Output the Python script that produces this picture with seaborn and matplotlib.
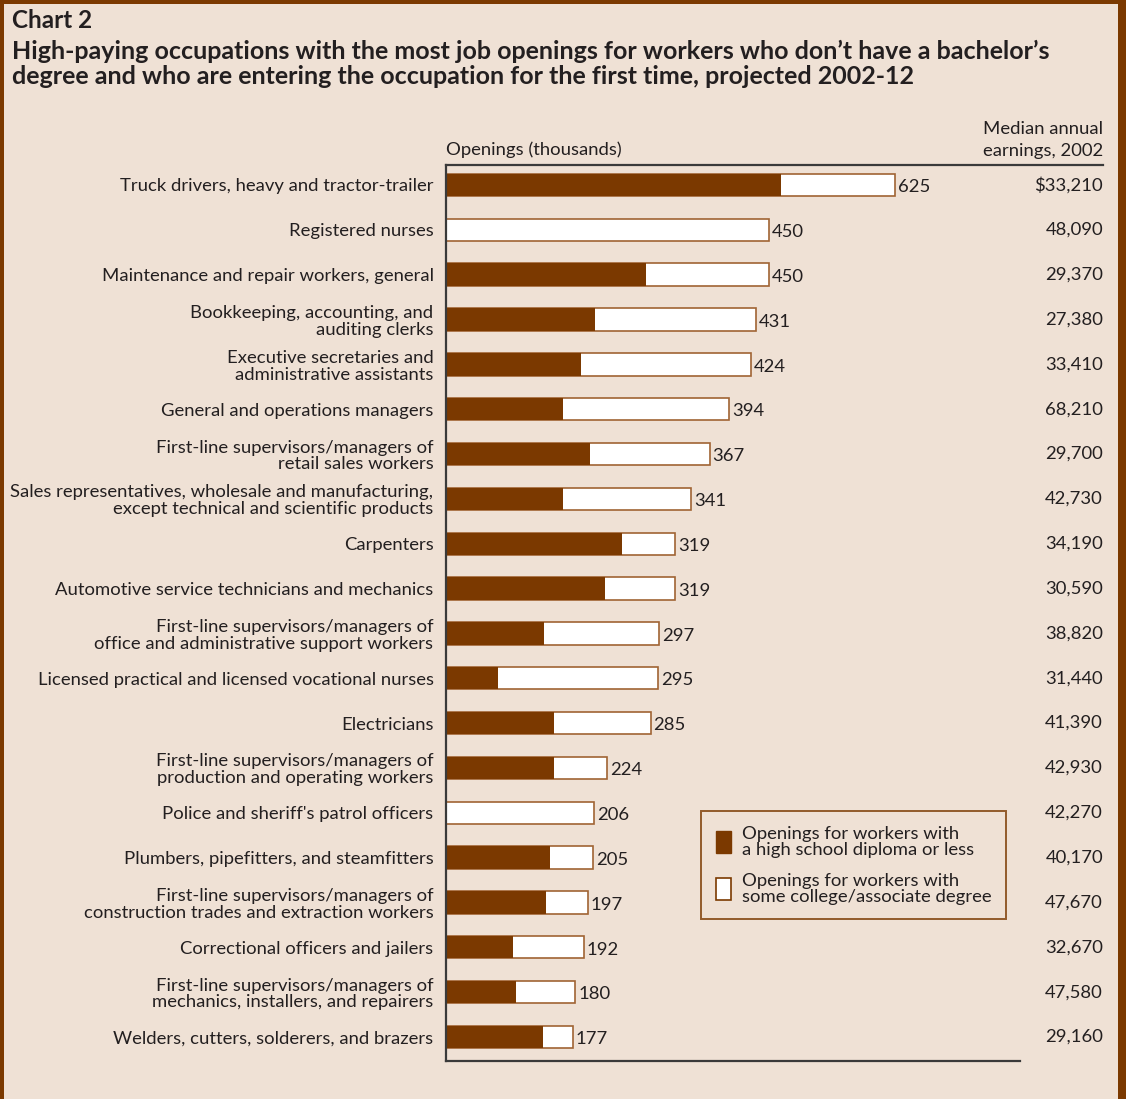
import matplotlib
matplotlib.use("Agg")
import matplotlib.pyplot as plt
from matplotlib.patches import Rectangle, Patch
from matplotlib.lines import Line2D
from matplotlib.transforms import blended_transform_factory
import seaborn as sns
import pandas as pd

occupations = [
    "Truck drivers, heavy and tractor-trailer",
    "Registered nurses",
    "Maintenance and repair workers, general",
    "Bookkeeping, accounting, and\nauditing clerks",
    "Executive secretaries and\nadministrative assistants",
    "General and operations managers",
    "First-line supervisors/managers of\nretail sales workers",
    "Sales representatives, wholesale and manufacturing,\nexcept technical and scientific products",
    "Carpenters",
    "Automotive service technicians and mechanics",
    "First-line supervisors/managers of\noffice and administrative support workers",
    "Licensed practical and licensed vocational nurses",
    "Electricians",
    "First-line supervisors/managers of\nproduction and operating workers",
    "Police and sheriff's patrol officers",
    "Plumbers, pipefitters, and steamfitters",
    "First-line supervisors/managers of\nconstruction trades and extraction workers",
    "Correctional officers and jailers",
    "First-line supervisors/managers of\nmechanics, installers, and repairers",
    "Welders, cutters, solderers, and brazers",
]
total_openings = [625, 450, 450, 431, 424, 394, 367, 341, 319, 319,
                  297, 295, 285, 224, 206, 205, 197, 192, 180, 177]
high_school_openings = [466, 0, 279, 207, 188, 163, 200, 163, 245, 221,
                        136, 72, 151, 151, 0, 145, 139, 93, 98, 135]
earnings = ["$33,210", "48,090", "29,370", "27,380", "33,410", "68,210",
            "29,700", "42,730", "34,190", "30,590", "38,820", "31,440",
            "41,390", "42,930", "42,270", "40,170", "47,670", "32,670",
            "47,580", "29,160"]

BG = "#EFE1D5"
DARK = "#7B3900"
EDGE = "#A06434"
TXT = "#231F20"
FONT = "Lato"
FS = 13.3

plt.rcParams["font.family"] = [FONT, "DejaVu Sans"]

df = pd.DataFrame({"occupation": occupations,
                   "total": total_openings,
                   "hs": high_school_openings})

W, H = 1126, 1099
fig = plt.figure(figsize=(W / 100, H / 100), dpi=100, facecolor=BG)
ax = fig.add_axes([446 / W, 1 - 1061 / H, (1020 - 446) / W, (1061 - 165) / H])
ax.set_facecolor(BG)

sns.barplot(data=df, x="total", y="occupation", orient="h", color="white",
            edgecolor=EDGE, linewidth=1.2, width=0.5, ax=ax, saturation=1)
sns.barplot(data=df, x="hs", y="occupation", orient="h", color=DARK,
            linewidth=0, width=0.5, ax=ax, saturation=1)

ax.set_xlim(0, (1020 - 446) / 0.7184)
ax.set_ylim(19.536, -0.446)
ax.set_xlabel("")
ax.set_ylabel("")
ax.set_xticks([])
for s in ["top", "right"]:
    ax.spines[s].set_visible(False)
for s in ["left", "bottom"]:
    ax.spines[s].set_color("#3a3a3a")
    ax.spines[s].set_linewidth(1.6)
ax.tick_params(axis="y", length=0, pad=9, labelsize=FS, labelcolor=TXT)
for lab in ax.get_yticklabels():
    lab.set_linespacing(1.05)

# value labels
for i, v in enumerate(total_openings):
    ax.text(v + 4, i + 0.05, str(v), va="center", ha="left",
            fontsize=FS, color=TXT)

# earnings column
tr = blended_transform_factory(fig.transFigure, ax.transData)
for i, e in enumerate(earnings):
    ax.text(1103 / W, i, e, transform=tr, va="center", ha="right",
            fontsize=FS, color=TXT)

# headers
fig.text(446 / W, 1 - 150 / H, "Openings (thousands)", ha="left", va="center",
         fontsize=FS, color=TXT)
fig.text(1103 / W, 1 - 140 / H, "Median annual\nearnings, 2002", ha="right",
         va="center", fontsize=FS, color=TXT, linespacing=1.4)
fig.add_artist(Line2D([446 / W, 1103 / W], [1 - 165 / H, 1 - 165 / H],
                      color="#3a3a3a", lw=1.6, transform=fig.transFigure))

# title
fig.text(12 / W, 1 - 21 / H, "Chart 2", ha="left", va="center",
         fontsize=17.5, fontweight="bold", color=TXT)
fig.text(12 / W, 1 - 64 / H,
         "High-paying occupations with the most job openings for workers who don\u2019t have a bachelor\u2019s\n"
         "degree and who are entering the occupation for the first time, projected 2002-12",
         ha="left", va="center", fontsize=18, fontweight="bold", color=TXT,
         linespacing=1.1)

# legend
handles = [Patch(facecolor=DARK, edgecolor=DARK, label="Openings for workers with\na high school diploma or less"),
           Patch(facecolor="white", edgecolor=DARK, linewidth=1.2,
                 label="Openings for workers with\nsome college/associate degree")]
leg = fig.legend(handles=handles, loc="upper left",
                 bbox_to_anchor=(701 / W, 1 - 811 / H), frameon=True,
                 fontsize=FS, handlelength=0.8, handleheight=1.5,
                 handletextpad=0.6, labelspacing=0.8, borderpad=0.8,
                 borderaxespad=0, fancybox=False)
leg.get_frame().set_facecolor(BG)
leg.get_frame().set_edgecolor(DARK)
leg.get_frame().set_linewidth(1.4)
for t in leg.get_texts():
    t.set_color(TXT)
    t.set_linespacing(1.0)

# border
fig.add_artist(Rectangle((0, 0), 4 / W, 1, transform=fig.transFigure,
                         color=DARK, lw=0))
fig.add_artist(Rectangle((0, 1 - 4 / H), 1, 4 / H, transform=fig.transFigure,
                         color=DARK, lw=0))
fig.add_artist(Rectangle((1118 / W, 0), 8 / W, 1, transform=fig.transFigure,
                         color=DARK, lw=0))

fig.savefig("out.png", dpi=100, facecolor=BG)
